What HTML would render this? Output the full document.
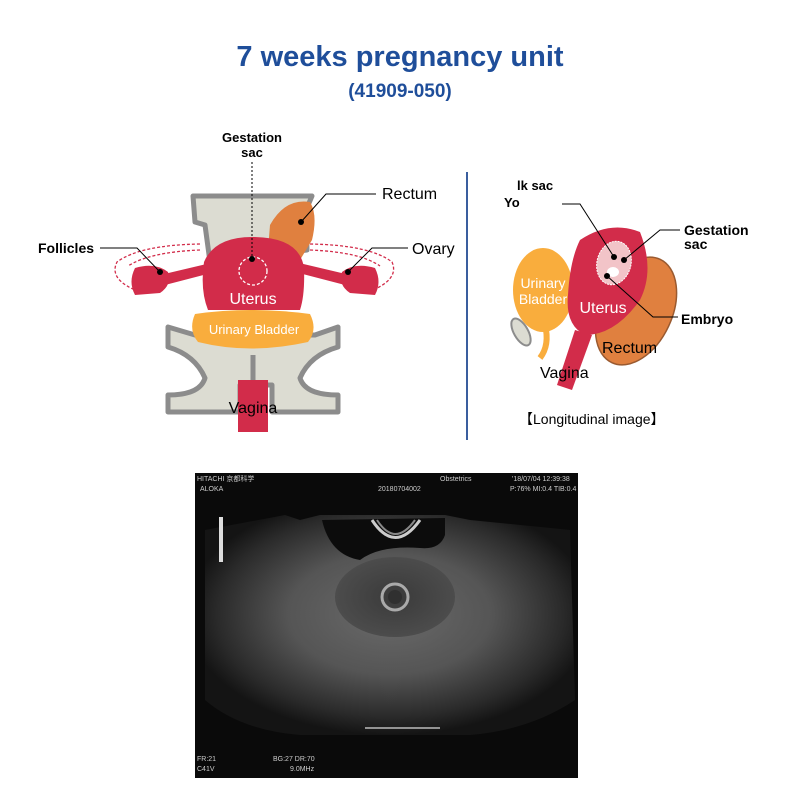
<!DOCTYPE html>
<html><head><meta charset="utf-8"><style>
html,body{margin:0;padding:0;background:#fff}
svg{display:block}
text{font-family:"Liberation Sans",sans-serif}
</style></head><body>
<svg width="800" height="800" viewBox="0 0 800 800" xmlns="http://www.w3.org/2000/svg">
<defs>
<radialGradient id="us" cx="0.5" cy="0.45" r="0.55">
<stop offset="0" stop-color="#6a6a6a"/><stop offset="0.5" stop-color="#555"/><stop offset="0.85" stop-color="#2a2a2a"/><stop offset="1" stop-color="#141414"/>
</radialGradient>
<radialGradient id="gs" cx="0.5" cy="0.5" r="0.5">
<stop offset="0" stop-color="#3a3a3a"/><stop offset="1" stop-color="#4c4c4c"/>
</radialGradient>
</defs>
<text x="400" y="66" text-anchor="middle" font-size="29" font-weight="bold" fill="#1f4e9a">7 weeks pregnancy unit</text>
<text x="400" y="97" text-anchor="middle" font-size="19" font-weight="bold" fill="#1f4e9a">(41909-050)</text>

<!-- LEFT DIAGRAM -->
<path d="M193 196 L312 196 L306 210 L307 250 L210 262 L205 225 L195 222 Z" fill="#dcdcd2" stroke="#8c8c8c" stroke-width="5" stroke-linejoin="round"/>
<path d="M270 225 Q285 198 310 202 Q318 215 312 240 L300 260 L268 250 Z" fill="#e0803f"/>
<g fill="none" stroke="#d22c4a" stroke-width="1.3" stroke-dasharray="3,2">
<path d="M200 244 Q140 245 117 262 Q108 280 140 292"/>
<path d="M200 250 Q150 252 128 266"/>
<path d="M310 244 Q370 245 392 262 Q400 280 368 292"/>
<path d="M310 250 Q360 252 380 266"/>
</g>
<path d="M160 275 L215 262 L215 272 L165 285 Z M350 275 L295 262 L295 272 L345 285 Z" fill="#d22c4a"/>
<path d="M135 268 Q155 262 168 272 Q172 285 160 293 L135 295 Q128 282 135 268 Z" fill="#d22c4a"/>
<path d="M375 268 Q355 262 342 272 Q338 285 350 293 L375 295 Q382 282 375 268 Z" fill="#d22c4a"/>
<path d="M204 262 Q215 236 255 237 Q300 238 304 268 Q305 295 300 310 L208 310 Q200 290 204 262 Z" fill="#d22c4a"/>
<circle cx="253" cy="271" r="14" fill="none" stroke="#fff" stroke-width="1.3" stroke-dasharray="3,2"/>
<text x="253" y="304" text-anchor="middle" font-size="16" fill="#fff">Uterus</text>
<path d="M168 327 L195 335 L315 335 L338 327 L338 347 Q310 355 300 378 Q305 395 338 395 L338 412 L272 412 L272 385 L240 385 L240 412 L168 412 L168 395 Q200 395 205 378 Q195 355 168 347 Z" fill="#dcdcd2" stroke="#8c8c8c" stroke-width="5" stroke-linejoin="round"/>
<line x1="253" y1="355" x2="253" y2="385" stroke="#8c8c8c" stroke-width="5"/>
<rect x="238" y="380" width="30" height="52" fill="#d22c4a"/>
<path d="M195 314 Q250 306 310 314 Q318 330 308 342 Q250 355 198 342 Q188 330 195 314 Z" fill="#f9ad3d"/>
<text x="254" y="334" text-anchor="middle" font-size="13" fill="#fff">Urinary Bladder</text>
<text x="253" y="413" text-anchor="middle" font-size="16" fill="#000">Vagina</text>
<text x="252" y="142" text-anchor="middle" font-size="13" font-weight="bold">Gestation</text>
<text x="252" y="157" text-anchor="middle" font-size="13" font-weight="bold">sac</text>
<line x1="252" y1="162" x2="252" y2="258" stroke="#000" stroke-width="1" stroke-dasharray="2,2"/>
<circle cx="252" cy="259" r="3" fill="#000"/>
<polyline points="301,222 326,194 376,194" fill="none" stroke="#000" stroke-width="1"/>
<circle cx="301" cy="222" r="3" fill="#000"/>
<text x="382" y="199" font-size="16">Rectum</text>
<polyline points="100,248 137,248 160,272" fill="none" stroke="#000" stroke-width="1"/>
<circle cx="160" cy="272" r="3" fill="#000"/>
<text x="38" y="253" font-size="14" font-weight="bold">Follicles</text>
<polyline points="348,272 372,248 408,248" fill="none" stroke="#000" stroke-width="1"/>
<circle cx="348" cy="272" r="3" fill="#000"/>
<text x="412" y="254" font-size="16">Ovary</text>

<line x1="467" y1="172" x2="467" y2="440" stroke="#3a5e9e" stroke-width="2"/>

<!-- RIGHT DIAGRAM -->
<ellipse cx="636" cy="311" rx="36" ry="57" transform="rotate(25 636 311)" fill="#e0803f" stroke="#9a5a30" stroke-width="1.5"/>
<ellipse cx="521" cy="332" rx="7" ry="15" transform="rotate(-30 521 332)" fill="#dcdcd2" stroke="#8c8c8c" stroke-width="2"/>
<path d="M545 325 Q550 345 540 358" fill="none" stroke="#f9ad3d" stroke-width="6"/>
<ellipse cx="543" cy="290" rx="30" ry="42" fill="#f9ad3d"/>
<path d="M557 385 L575 330 L592 335 L572 390 Z" fill="#d22c4a"/>
<path d="M580 240 Q610 220 640 232 Q655 270 640 300 Q615 335 585 335 Q565 325 568 295 Q570 260 580 240 Z" fill="#d22c4a"/>
<ellipse cx="614" cy="263" rx="17" ry="22" transform="rotate(15 614 263)" fill="#f2c4c8" stroke="#fff" stroke-width="1" stroke-dasharray="2,1"/>
<ellipse cx="613" cy="272" rx="6" ry="5" fill="#fff"/>
<text x="543" y="288" text-anchor="middle" font-size="14" fill="#fff">Urinary</text>
<text x="543" y="304" text-anchor="middle" font-size="14" fill="#fff">Bladder</text>
<text x="603" y="313" text-anchor="middle" font-size="16" fill="#fff">Uterus</text>
<text x="602" y="353" font-size="16" fill="#000">Rectum</text>
<text x="540" y="378" font-size="16" fill="#000">Vagina</text>
<polyline points="562,204 580,204 614,257" fill="none" stroke="#000" stroke-width="1"/>
<circle cx="614" cy="257" r="3" fill="#000"/>
<circle cx="624" cy="260" r="3" fill="#000"/>
<polyline points="624,260 660,230 680,230" fill="none" stroke="#000" stroke-width="1"/>
<circle cx="607" cy="276" r="3" fill="#000"/>
<polyline points="607,276 653,317 678,317" fill="none" stroke="#000" stroke-width="1"/>
<text x="517" y="190" font-size="13" font-weight="bold">lk sac</text>
<text x="504" y="207" font-size="13" font-weight="bold">Yo</text>
<text x="684" y="235" font-size="14" font-weight="bold">Gestation</text>
<text x="684" y="249" font-size="14" font-weight="bold">sac</text>
<text x="681" y="324" font-size="14" font-weight="bold">Embryo</text>
<text x="519" y="424" font-size="14">【Longitudinal image】</text>

<!-- ULTRASOUND -->
<rect x="195" y="473" width="383" height="305" fill="#0a0a0a"/>
<path d="M205 530 L285 515 L300 520 L320 515 L445 515 L470 520 L570 530 L575 700 Q530 730 470 735 L300 735 Q240 730 205 700 Z" fill="url(#us)"/>
<path d="M322 520 Q330 555 360 560 Q380 545 420 548 Q440 550 445 535 L445 518 Z" fill="#0c0c0c"/>
<ellipse cx="395" cy="597" rx="60" ry="40" fill="url(#gs)"/>
<circle cx="395" cy="597" r="13" fill="none" stroke="#aaa" stroke-width="3"/>
<circle cx="395" cy="597" r="7" fill="#303030"/>
<path d="M372 520 Q395 555 420 520" fill="none" stroke="#ccc" stroke-width="3"/>
<path d="M377 520 Q395 548 415 520" fill="none" stroke="#888" stroke-width="2"/>
<rect x="219" y="517" width="4" height="45" fill="#ddd"/>
<line x1="365" y1="728" x2="440" y2="728" stroke="#bbb" stroke-width="1.5"/>
<g font-size="7" fill="#ccc">
<text x="197" y="481">HITACHI 京都科学</text><text x="200" y="491">ALOKA</text>
<text x="440" y="481">Obstetrics</text><text x="378" y="491">20180704002</text>
<text x="512" y="481">'18/07/04  12:39:38</text><text x="510" y="491">P:76%  MI:0.4  TIB:0.4</text>
<text x="197" y="761">FR:21</text><text x="197" y="771">C41V</text>
<text x="273" y="761">BG:27  DR:70</text><text x="290" y="771">9.0MHz</text>
</g>
</svg>
</body></html>
